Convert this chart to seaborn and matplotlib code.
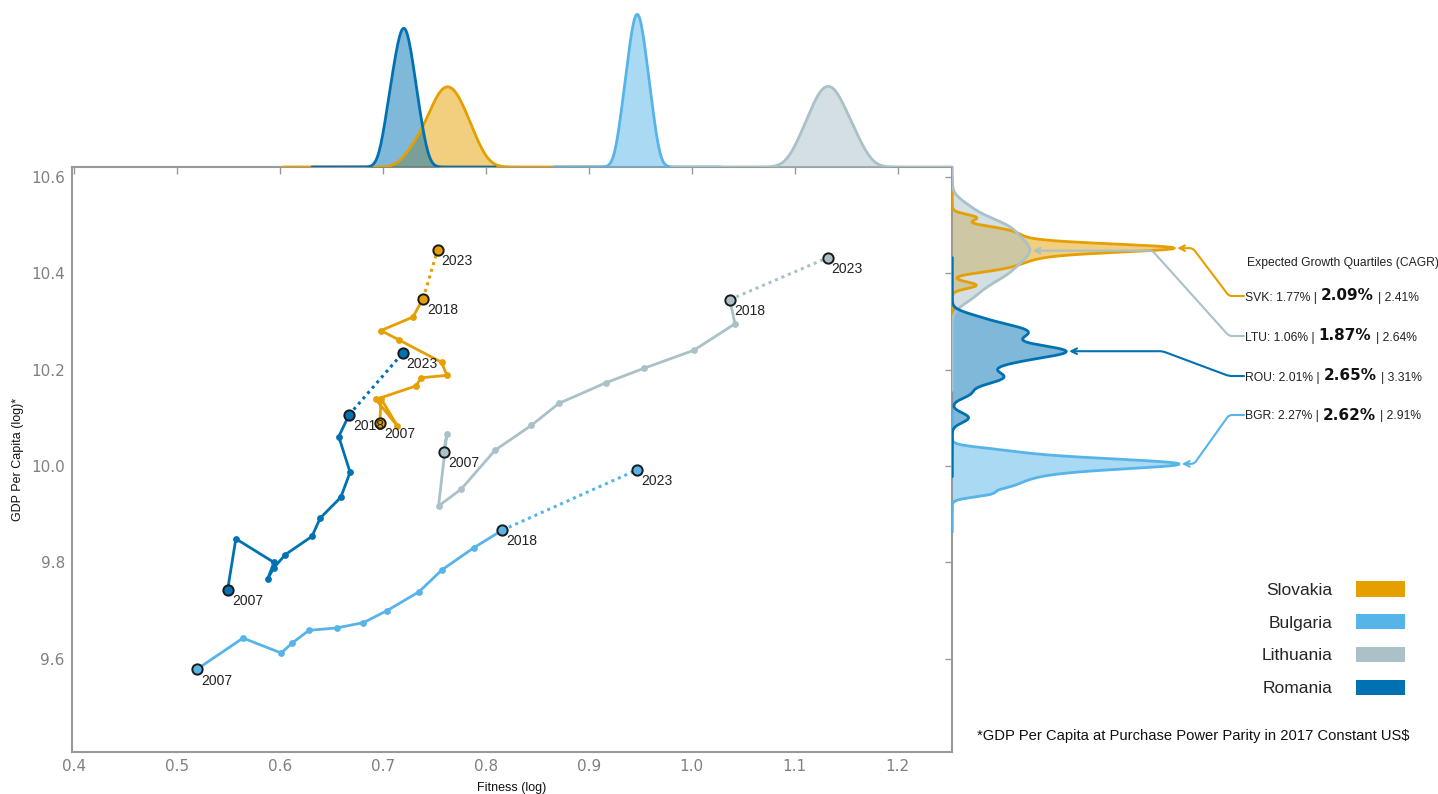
import numpy as np
import pandas as pd
import matplotlib
matplotlib.use('Agg')
import matplotlib.pyplot as plt
import seaborn as sns
from matplotlib.patches import Patch
from matplotlib.offsetbox import TextArea, HPacker, AnnotationBbox

sns.set_style('white')
plt.rcParams['font.family'] = ['DejaVu Sans']
NARROW = ['DejaVu Sans Condensed', 'Liberation Sans Narrow', 'Liberation Sans', 'DejaVu Sans']

# countries in legend / drawing order
countries = ['Slovakia', 'Bulgaria', 'Lithuania', 'Romania']
codes = ['SVK', 'BGR', 'LTU', 'ROU']
colors = ['#E69F00', '#56B4E9', '#A9C1C7', '#0072B2']

years = [2007, 2008, 2009, 2010, 2011, 2012, 2013, 2014, 2015, 2016, 2017, 2018, 2023]

# trajectories (fitness log, gdp per capita log)
svk_fit = [0.697, 0.698, 0.714, 0.693, 0.732, 0.737, 0.762, 0.757, 0.716, 0.698, 0.729, 0.739, 0.753]
svk_gdp = [10.090, 10.140, 10.083, 10.138, 10.166, 10.183, 10.188, 10.215, 10.261, 10.281, 10.309, 10.347, 10.448]
bgr_fit = [0.519, 0.564, 0.601, 0.612, 0.628, 0.655, 0.681, 0.704, 0.735, 0.757, 0.788, 0.816, 0.947]
bgr_gdp = [9.578, 9.643, 9.612, 9.633, 9.659, 9.664, 9.675, 9.700, 9.739, 9.784, 9.830, 9.867, 9.992]
ltu_fit = [0.759, 0.762, 0.754, 0.776, 0.809, 0.844, 0.871, 0.917, 0.954, 1.002, 1.042, 1.037, 1.132]
ltu_gdp = [10.030, 10.066, 9.917, 9.952, 10.033, 10.084, 10.130, 10.173, 10.203, 10.240, 10.295, 10.345, 10.432]
rou_fit = [0.549, 0.557, 0.594, 0.588, 0.594, 0.605, 0.631, 0.639, 0.659, 0.668, 0.657, 0.667, 0.719]
rou_gdp = [9.743, 9.849, 9.800, 9.766, 9.789, 9.816, 9.854, 9.892, 9.935, 9.987, 10.061, 10.106, 10.234]

# forecast samples for the marginal distributions
svk_fit_samples = [0.730, 0.743, 0.749, 0.754, 0.758, 0.762, 0.766, 0.770, 0.775, 0.780, 0.789]
bgr_fit_samples = [0.932, 0.937, 0.940, 0.943, 0.945, 0.947, 0.949, 0.951, 0.954, 0.957, 0.962]
ltu_fit_samples = [1.105, 1.115, 1.120, 1.125, 1.129, 1.133, 1.137, 1.141, 1.146, 1.152, 1.162]
rou_fit_samples = [0.7035, 0.7085, 0.7125, 0.715, 0.718, 0.720, 0.722, 0.7245, 0.7275, 0.7305, 0.7365]

svk_gdp_samples = [10.375, 10.405, 10.413, 10.419, 10.425, 10.430, 10.435, 10.439, 10.443, 10.446,
                   10.448, 10.450, 10.451, 10.452, 10.453, 10.454, 10.456, 10.458, 10.461, 10.465,
                   10.470, 10.476, 10.482, 10.488, 10.496, 10.515]
bgr_gdp_samples = [9.942, 9.955, 9.964, 9.972, 9.979, 9.985, 9.990, 9.994, 9.997, 10.000,
                   10.002, 10.004, 10.006, 10.008, 10.011, 10.014, 10.018, 10.024, 10.033]
ltu_gdp_samples = [10.345, 10.362, 10.376, 10.386, 10.394, 10.401, 10.408, 10.414, 10.421, 10.427,
                   10.433, 10.438, 10.443, 10.448, 10.453, 10.458, 10.464, 10.469, 10.475, 10.482,
                   10.489, 10.495, 10.501, 10.508, 10.520, 10.540]
rou_gdp_samples = [10.100, 10.150, 10.170, 10.180, 10.186, 10.192, 10.205, 10.214, 10.220, 10.225,
                   10.230, 10.234, 10.237, 10.239, 10.241, 10.244, 10.249, 10.256, 10.263, 10.270,
                   10.275, 10.279, 10.284, 10.290, 10.297, 10.310]

# expected growth quartiles (CAGR)
quart_order = ['SVK', 'LTU', 'ROU', 'BGR']
q_low = ['1.77%', '1.06%', '2.01%', '2.27%']
q_mid = ['2.09%', '1.87%', '2.65%', '2.62%']
q_high = ['2.41%', '2.64%', '3.31%', '2.91%']

fit = dict(zip(codes, [svk_fit, bgr_fit, ltu_fit, rou_fit]))
gdp = dict(zip(codes, [svk_gdp, bgr_gdp, ltu_gdp, rou_gdp]))
fit_s = dict(zip(codes, [svk_fit_samples, bgr_fit_samples, ltu_fit_samples, rou_fit_samples]))
gdp_s = dict(zip(codes, [svk_gdp_samples, bgr_gdp_samples, ltu_gdp_samples, rou_gdp_samples]))
col = dict(zip(codes, colors))
right_bw = {'SVK': 0.45, 'BGR': 0.5, 'LTU': 0.6, 'ROU': 0.4}

W, H = 1438, 794
fig = plt.figure(figsize=(W / 100, H / 100), dpi=100)

def fx(px):
    return px / W

def fy(py):
    return 1 - py / H

ax = fig.add_axes([fx(71.7), fy(752), fx(952.3) - fx(71.7), fy(167) - fy(752)])
ax_top = fig.add_axes([fx(71.7), fy(167), fx(952.3) - fx(71.7), fy(5) - fy(167)], sharex=ax)
ax_right = fig.add_axes([fx(952.3), fy(752), fx(1202) - fx(952.3), fy(167) - fy(752)], sharey=ax)

# main trajectories
order = ['BGR', 'LTU', 'ROU', 'SVK']
for c in order:
    df = pd.DataFrame({'year': years, 'fitness': fit[c], 'gdp': gdp[c]})
    hist = df[df.year <= 2018]
    sns.lineplot(data=hist, x='fitness', y='gdp', sort=False, estimator=None,
                 color=col[c], linewidth=2, ax=ax, zorder=2)
    proj = df[df.year >= 2018]
    ax.plot(proj.fitness, proj.gdp, linestyle=(0, (1, 1.3)), color=col[c], linewidth=2.2, zorder=2)
    mid = df[~df.year.isin([2007, 2018, 2023])]
    sns.scatterplot(data=mid, x='fitness', y='gdp', color=col[c], s=24, linewidth=0, ax=ax, zorder=3)
for c in order:
    df = pd.DataFrame({'year': years, 'fitness': fit[c], 'gdp': gdp[c]})
    key = df[df.year.isin([2007, 2018, 2023])]
    sns.scatterplot(data=key, x='fitness', y='gdp', color=col[c], s=55, edgecolor='#1a1a1a',
                    linewidth=1.4, ax=ax, zorder=4)
    for _, r in key.iterrows():
        ax.annotate(str(int(r.year)), (r.fitness, r.gdp), xytext=(3, -3), textcoords='offset points',
                    ha='left', va='top', fontsize=10, family=NARROW, color='#222222', zorder=5)

ax.set_xticks([0.4, 0.5, 0.6, 0.7, 0.8, 0.9, 1.0, 1.1, 1.2])
ax.set_yticks([9.6, 9.8, 10.0, 10.2, 10.4, 10.6])
ax.set_xticklabels(['0.4', '0.5', '0.6', '0.7', '0.8', '0.9', '1.0', '1.1', '1.2'])
ax.set_yticklabels(['9.6', '9.8', '10.0', '10.2', '10.4', '10.6'])
ax.tick_params(direction='in', length=5, width=1, color='#999999', labelcolor='#808080',
               labelsize=11, top=True, right=True, pad=5)
for s in ax.spines.values():
    s.set_color('#999999')
    s.set_linewidth(1.5)
ax.set_xlabel('Fitness (log)', family=NARROW, fontsize=9, color='#111111', labelpad=6)
ax.set_ylabel('GDP Per Capita (log)*', family=NARROW, fontsize=9, color='#111111', labelpad=5)

# marginal distributions
for c in codes:
    sns.kdeplot(x=fit_s[c], ax=ax_top, color=col[c], fill=True, alpha=0.5, linewidth=0, cut=12)
    sns.kdeplot(x=fit_s[c], ax=ax_top, color=col[c], linewidth=2, cut=12)
    sns.kdeplot(y=gdp_s[c], ax=ax_right, color=col[c], fill=True, alpha=0.5, linewidth=0,
                bw_adjust=right_bw[c], cut=12)
    sns.kdeplot(y=gdp_s[c], ax=ax_right, color=col[c], linewidth=2, bw_adjust=right_bw[c], cut=12)

top_peak = {c: ln.get_ydata().max() for c, ln in zip(codes, ax_top.lines)}
right_peak = {}
for c, ln in zip(codes, ax_right.lines):
    xd, yd = ln.get_xdata(), ln.get_ydata()
    i = np.argmax(xd)
    right_peak[c] = (xd[i], yd[i])

ax_top.set_ylim(0, top_peak['BGR'] * 160 / 150.7)
ax_right.set_xlim(0, right_peak['BGR'][0] * 249.7 / 226.7)
ax.set_xlim(0.3975, 1.2532)
ax.set_ylim(9.4066, 10.6203)
ax_top.axis('off')
ax_right.axis('off')

# growth quartile annotations
fig.text(fx(1247), fy(263), 'Expected Growth Quartiles (CAGR)', family=NARROW, fontsize=8.7,
         color='#222222', ha='left', va='center')
text_y = [296, 336, 376, 415]
for code, lo, md, hi, ty in zip(quart_order, q_low, q_mid, q_high, text_y):
    parts = [TextArea(f'{code}: {lo} |', textprops=dict(family=NARROW, fontsize=8.7, color='#222222')),
             TextArea(md, textprops=dict(family='DejaVu Sans', fontsize=11, weight='bold', color='#111111')),
             TextArea(f'| {hi}', textprops=dict(family=NARROW, fontsize=8.7, color='#222222'))]
    pack = HPacker(children=parts, align='baseline', pad=0, sep=3)
    fig.add_artist(AnnotationBbox(pack, (1245, H - ty), xycoords='figure pixels',
                                  box_alignment=(0, 0.5), frameon=False, pad=0))
    px, py = right_peak[code]
    peak_disp = ax_right.transData.transform((px, py))
    armB = (1200 - peak_disp[0]) * 72 / 100
    ax_right.annotate('', xy=(px, py), xycoords='data', xytext=(1244, H - ty),
                      textcoords='figure pixels', annotation_clip=False,
                      arrowprops=dict(arrowstyle='->', color=col[code], lw=1.5, shrinkA=0, shrinkB=2,
                                      connectionstyle=f'arc,angleA=180,armA=15,angleB=0,armB={armB:.1f},rad=3'))

# legend
handles = [Patch(facecolor=c, edgecolor='none') for c in colors]
fig.legend(handles, countries, loc='upper right', bbox_to_anchor=(fx(1405), fy(581)),
           frameon=False, markerfirst=False, handlelength=2.85, handleheight=1.0,
           labelspacing=0.93, handletextpad=1.35, borderpad=0, borderaxespad=0,
           prop={'family': ['Liberation Sans', 'DejaVu Sans'], 'size': 12.5})

fig.text(fx(977), fy(736), '*GDP Per Capita at Purchase Power Parity in 2017 Constant US$',
         family=NARROW, fontsize=10.6, color='#111111', ha='left', va='center')

fig.savefig('out.png', dpi=100)
